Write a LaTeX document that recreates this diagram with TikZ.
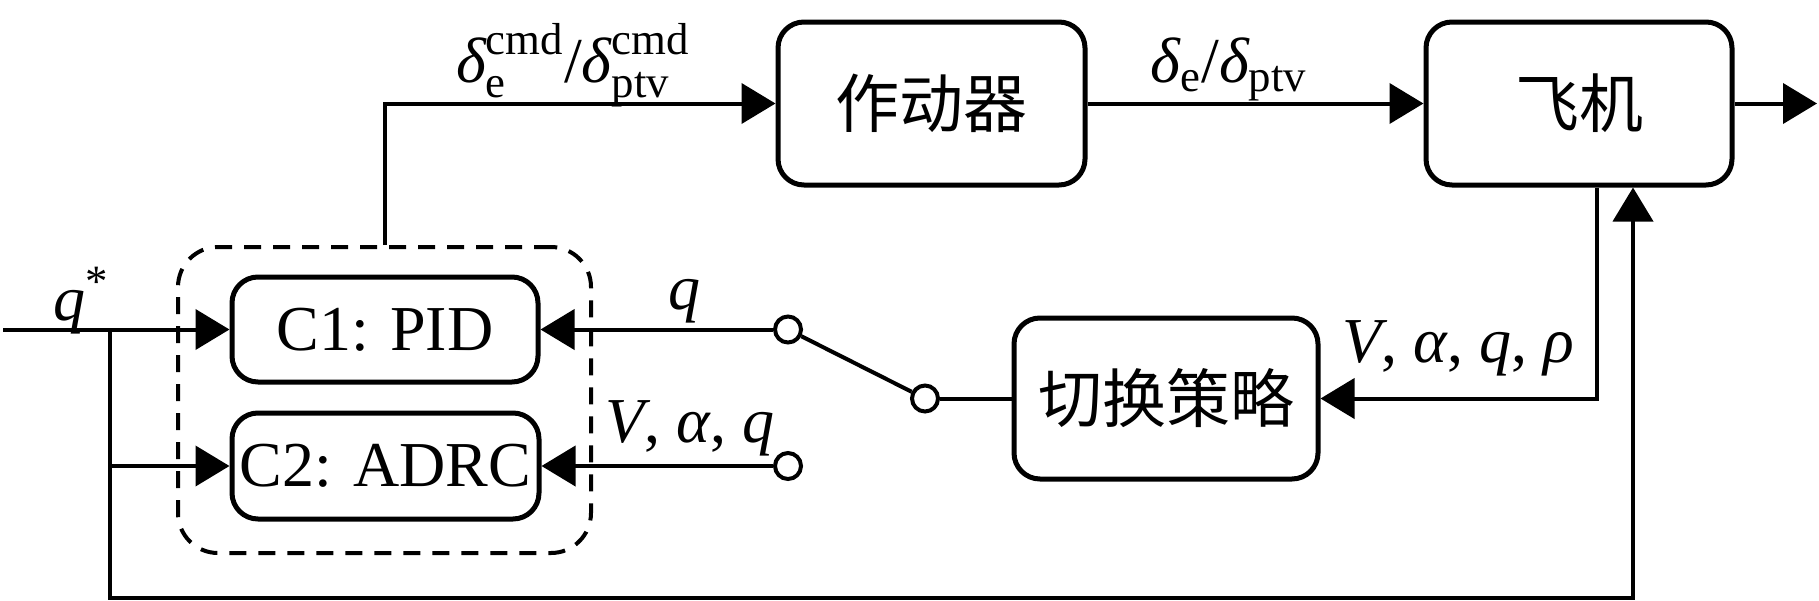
\RequirePackage{fix-cm}
\documentclass[tikz,border=0pt]{standalone}
\usepackage{amsmath}
\usepackage{fontspec}
\setmainfont{Liberation Serif}
\newfontfamily\cjk{Noto Sans CJK SC}
\usetikzlibrary{arrows.meta,calc}
\tikzset{
  blk/.style={draw,line width=2.5pt,rounded corners=13pt,align=center,inner sep=0pt},
  lat/.style={font=\fontsize{32}{38}\selectfont},
  zh/.style={font=\cjk\fontsize{32}{38}\selectfont},
  ln/.style={line width=2pt},
  arr/.style={ln,-{Triangle[length=17pt,width=20pt]}},
  term/.style={draw,circle,line width=2pt,minimum size=13pt,inner sep=0pt,fill=white},
  grpbox/.style={draw,line width=2pt,dash pattern=on 8.5pt off 6pt,rounded corners=20pt,inner sep=0pt}
}
\begin{document}
\begin{tikzpicture}[x=0.5pt,y=-0.5pt]
\fill[white] (0,0) rectangle (1819,600);
\useasboundingbox (0,0) rectangle (1819,600);

% blocks
\node[grpbox,minimum width=206.5pt,minimum height=153pt] (grp) at (384.5,400) {};
\node[blk,zh,minimum width=153.5pt,minimum height=81.5pt] (act) at (931.5,103.5) {作动器};
\node[blk,zh,minimum width=153pt,minimum height=81.5pt] (plane) at (1579,103.5) {飞机};
\node[blk,zh,minimum width=152pt,minimum height=80.5pt] (sw) at (1166,398.5) {切换策略};
\node[blk,lat,minimum width=153pt,minimum height=52.5pt] (c1) at (385,329.5) {C1: PID};
\node[blk,lat,minimum width=153.5pt,minimum height=53pt] (c2) at (385.5,466) {C2: ADRC};

% terminals and free ends
\node[term] (t1) at (788,329.5) {};
\node[term] (t2) at (925,398.5) {};
\node[term] (t3) at (788,466) {};
\coordinate (in) at (3,329.5);
\coordinate (br) at (110,329.5);
\coordinate (bot) at (110,598);
\coordinate (out) at (1817,103.5);

% connectors
\draw[arr] (grp.north) |- (act.west);
\draw[arr] (act.east) -- (plane.west);
\draw[arr] (plane.east) -- (out);
\draw[arr] (in) -- (c1.west);
\draw[arr] (br) |- (c2.west);
\draw[arr] (br) -- (bot) -| ($(plane.south)+(54,0)$);
\draw[arr] ($(plane.south)+(18,0)$) |- (sw.east);
\draw[ln] (sw.west) -- (t2);
\draw[ln] (t2) -- (t1);
\draw[arr] (t1) -- (c1.east);
\draw[arr] (t3) -- (c2.east);

% labels
\node[lat,anchor=base] (lqs) at (81,320) {\textit{q}\textsuperscript{*}};
\node[lat,anchor=base] (lq) at (684,309) {\textit{q}};
\node[lat,anchor=base] (lvaq) at (690,442) {\textit{V}, \textit{α}, \textit{q}};
\node[lat,anchor=base] (lvaqr) at (1458,362) {\textit{V}, \textit{α}, \textit{q}, \textit{ρ}};
\node[lat,anchor=base] (ld1) at (573,82) {$\text{\itshape δ}^{\text{cmd}}_{\text{e}}\text{/}\text{\itshape δ}^{\text{cmd}}_{\text{ptv}}$};
\node[lat,anchor=base] (ld2) at (1229,82) {$\text{\itshape δ}_{\text{e}}\text{/}\text{\itshape δ}_{\text{ptv}}$};
\end{tikzpicture}
\end{document}
